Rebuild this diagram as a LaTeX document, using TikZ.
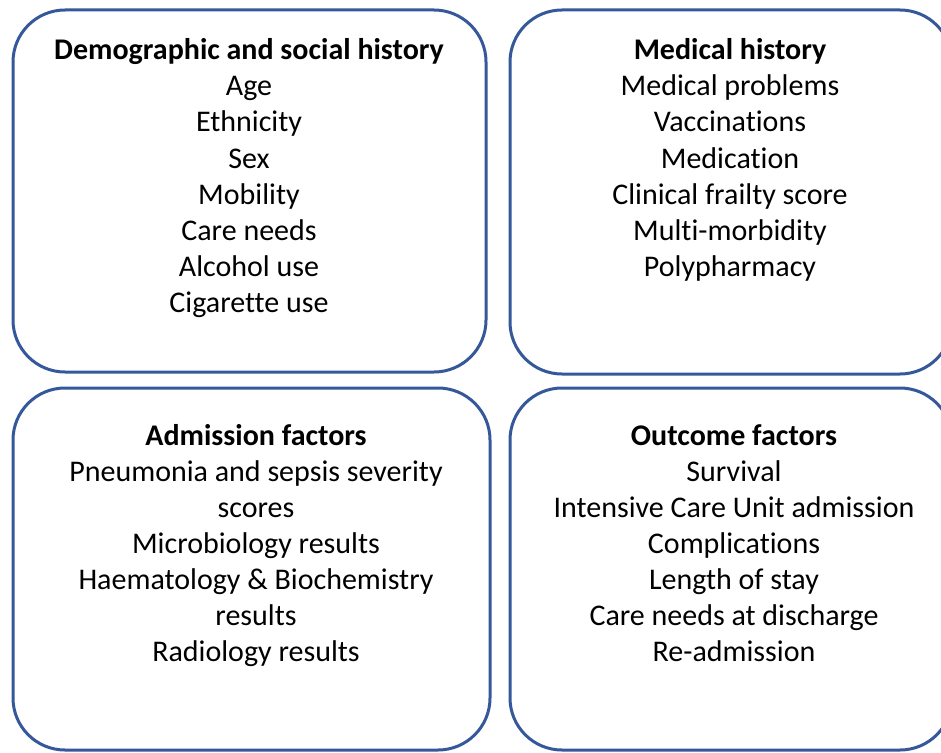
\documentclass[tikz,border=0pt]{standalone}
\usepackage{fontspec}
\setmainfont{Carlito}[Ligatures={NoCommon}]
\usetikzlibrary{positioning}
\definecolor{panel-blue}{HTML}{35589A}
\newcommand{\drawPanel}[4]{
	\draw[panel-blue, line width=3pt, rounded corners=52pt] (#1,#2) rectangle (#3,#4);
}
\tikzset{
	block/.style={anchor=north, align=center, inner sep=0pt,
		font=\fontsize{30}{36.1}\selectfont},
}

\begin{document}
\begin{tikzpicture}[x=1pt, y=-1pt]

	\clip (0,0) rectangle (941,752);
	\fill[white] (0,0) rectangle (941,752);

	% four panels, right ones run off the edge
	\drawPanel{ 13}{ 10}{486}{372}
	\drawPanel{510}{ 10}{952}{374}
	\drawPanel{ 13}{388}{490}{750}
	\drawPanel{510}{388}{952}{750}

	\node[block] (demo) at (249, 38.5) {\textbf{Demographic and social history}\\Age\\Ethnicity\\Sex\\Mobility\\Care needs\\Alcohol use\\Cigarette use};
	\node[block] (medical) at (730, 38.5) {\textbf{Medical history}\\Medical problems\\Vaccinations\\Medication\\Clinical frailty score\\Multi-morbidity\\Polypharmacy};
	\node[block] (admission) at (256, 424) {\textbf{Admission factors}\\Pneumonia and sepsis severity\\scores\\Microbiology results\\Haematology \& Biochemistry\\results\\Radiology results};
	\node[block] (outcome) at (734, 424) {\textbf{Outcome factors}\\Survival\\Intensive Care Unit admission\\Complications\\Length of stay\\Care needs at discharge\\Re-admission};

\end{tikzpicture}
\end{document}
